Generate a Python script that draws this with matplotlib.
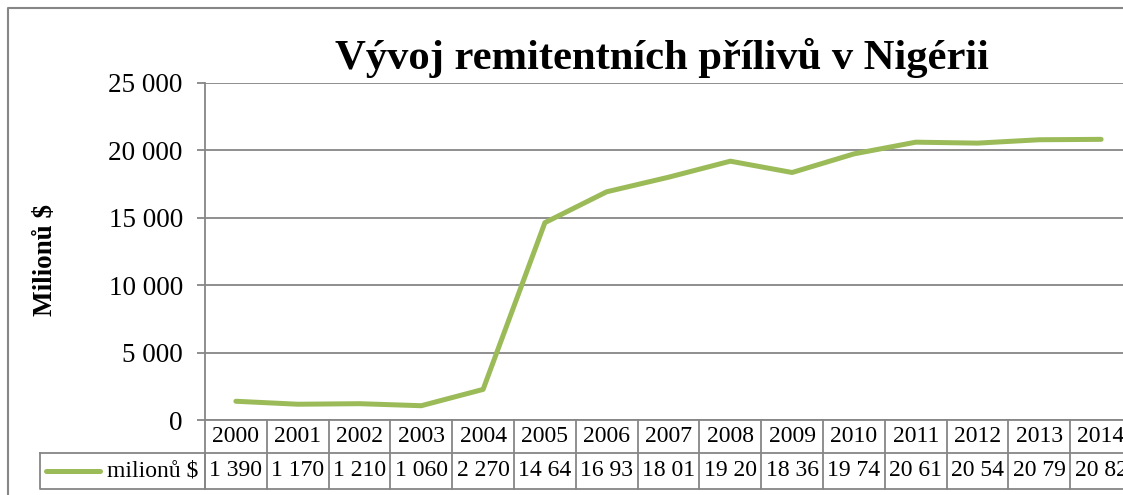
import matplotlib
matplotlib.use("Agg")
import matplotlib.pyplot as plt
from matplotlib.ticker import FuncFormatter, MultipleLocator
from matplotlib.lines import Line2D

years = ["2000", "2001", "2002", "2003", "2004", "2005", "2006", "2007",
         "2008", "2009", "2010", "2011", "2012", "2013", "2014"]
values = [1390, 1170, 1210, 1060, 2270, 14640, 16930, 18010,
          19200, 18360, 19740, 20610, 20540, 20790, 20820]
table_labels = ["1 390", "1 170", "1 210", "1 060", "2 270", "14 64", "16 93",
                "18 01", "19 20", "18 36", "19 74", "20 61", "20 54", "20 79", "20 82"]
series_name = "milionů $"
title = "Vývoj remitentních přílivů v Nigérii"
ylabel = "Milionů $"

W, H = 1123, 495
plt.rcParams['font.family'] = ['Liberation Serif', 'DejaVu Serif']
fig = plt.figure(figsize=(W / 100, H / 100), dpi=100)

def fx(px):
    return px / W

def fy(py):
    return 1 - py / H

GRAY = "#868686"
GREEN = "#9BBB59"

# outer chart border (left and top edges; the rest lies outside the picture)
fig.lines.append(Line2D([fx(8), fx(8), fx(1200)], [fy(520), fy(8), fy(8)],
                        transform=fig.transFigure, color=GRAY, lw=1.5))

left, right, top, bottom = 205, 1132, 83, 420
ax = fig.add_axes([fx(left), fy(bottom), fx(right - left), fy(top) - fy(bottom)])
x = list(range(len(years)))
ax.plot(x, values, color=GREEN, lw=3.6, solid_capstyle='round', clip_on=False)
ax.set_xlim(-0.5, len(years) - 0.5)
ax.set_ylim(0, 25000)
ax.yaxis.set_major_locator(MultipleLocator(5000))
ax.yaxis.set_major_formatter(FuncFormatter(lambda v, p: f"{int(v):,}".replace(",", " ")))
ax.grid(axis='y', color=GRAY, lw=1.3)
ax.set_axisbelow(True)
for s in ['top', 'right']:
    ax.spines[s].set_visible(False)
for s in ['left', 'bottom']:
    ax.spines[s].set_color(GRAY)
    ax.spines[s].set_linewidth(1.3)
ax.tick_params(axis='y', length=6, width=1.3, color=GRAY, pad=10, labelsize=19.5)
ax.tick_params(axis='x', length=0, labelbottom=False)

# data table
ph = bottom - top
r1 = (453 - bottom) / ph
r2 = (489 - bottom) / ph
tr = ax.get_xaxis_transform()
for i in range(len(years) + 1):
    ax.add_line(Line2D([i - 0.5, i - 0.5], [0, -r2], transform=tr, color=GRAY,
                       lw=1.3, clip_on=False))
ax.add_line(Line2D([-0.5, len(years) - 0.5], [-r1, -r1], transform=tr, color=GRAY,
                   lw=1.3, clip_on=False))
ax.add_line(Line2D([-0.5, len(years) - 0.5], [-r2, -r2], transform=tr, color=GRAY,
                   lw=1.3, clip_on=False))
for i, (yr, lab) in enumerate(zip(years, table_labels)):
    ax.text(i, -r1 / 2, yr, transform=tr, ha='center', va='center', fontsize=17,
            clip_on=False)
    ax.text(i, -(r1 + r2) / 2, lab, transform=tr, ha='center', va='center',
            fontsize=17, clip_on=False)

# legend cell
fig.lines.append(Line2D([fx(40), fx(205), fx(205)], [fy(453), fy(453), fy(489)],
                        transform=fig.transFigure, color=GRAY, lw=1.3))
fig.lines.append(Line2D([fx(40), fx(40), fx(205)], [fy(453), fy(489), fy(489)],
                        transform=fig.transFigure, color=GRAY, lw=1.3))
fig.lines.append(Line2D([fx(46), fx(100)], [fy(471), fy(471)],
                        transform=fig.transFigure, color=GREEN, lw=3.6,
                        solid_capstyle='round'))
fig.text(fx(198), fy(471), series_name, ha='right', va='center', fontsize=17)

fig.text(fx(662), fy(58), title, ha='center', va='center', fontsize=30.7,
         fontweight='bold')
fig.text(fx(45), fy(260), ylabel, ha='center', va='center', rotation=90,
         fontsize=19.5, fontweight='bold')

fig.savefig("out.png", dpi=100)
